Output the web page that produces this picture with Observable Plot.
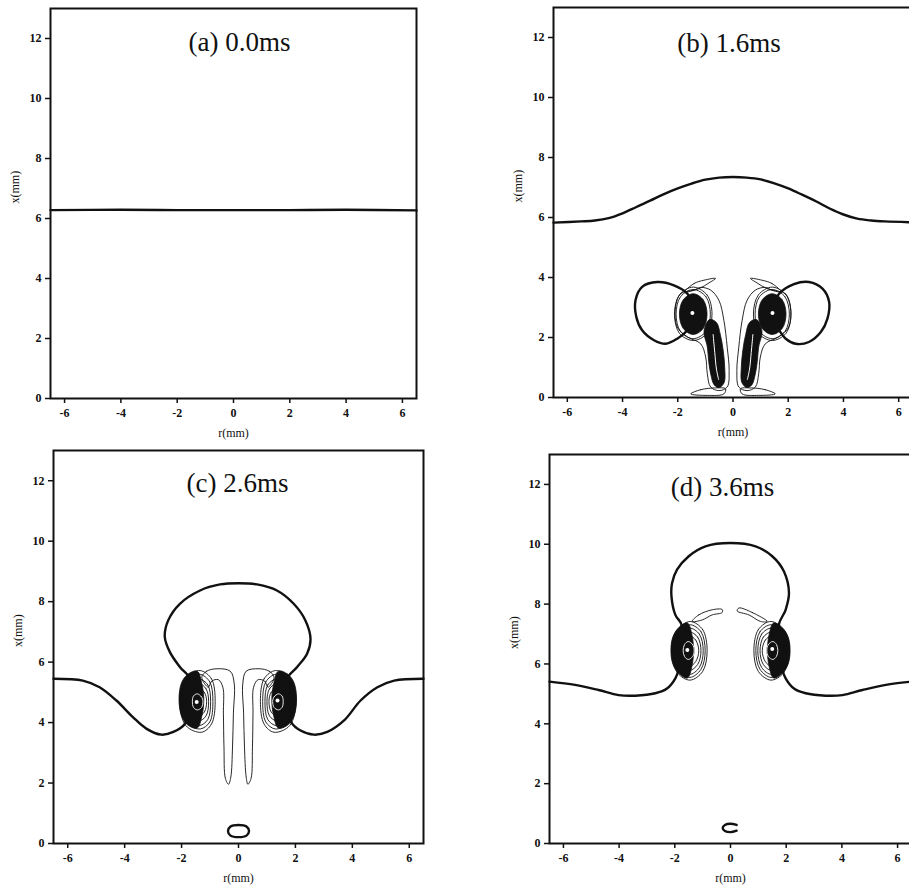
<!DOCTYPE html>
<html><head><meta charset="utf-8">
<script src="https://cdn.jsdelivr.net/npm/d3@7"></script>
<script src="https://cdn.jsdelivr.net/npm/@observablehq/plot@0.6"></script>
<style>
html,body{margin:0;padding:0;background:#fff;width:909px;height:889px;overflow:hidden;}
body{position:relative;}
.p{position:absolute;}
.p svg{max-width:none !important;}
</style></head><body>
<div id="pa" class="p" style="left:0px;top:0px;width:440px"></div>
<div id="pb" class="p" style="left:460px;top:0px;width:460px"></div>
<div id="pc" class="p" style="left:0px;top:440px;width:440px"></div>
<div id="pd" class="p" style="left:460px;top:440px;width:460px"></div>
<script>
// ---------- tick labels / titles ----------
const rTicks = [-6, -4, -2, 0, 2, 4, 6];
const xTicks = [0, 2, 4, 6, 8, 10, 12];
const titles = ["(a) 0.0ms", "(b) 1.6ms", "(c) 2.6ms", "(d) 3.6ms"];

// ---------- panel (a) : flat interface ----------
const aInterface = [[-6.5,6.28],[-4,6.29],[-2,6.28],[0,6.28],[2,6.28],[4,6.29],[6.5,6.27]];

// ---------- panel (b) : 1.6 ms ----------
const bInterface = [[-6.5,5.83],[-5.5,5.87],[-5,5.9],[-4.5,5.98],[-4,6.14],[-3.5,6.35],[-3,6.56],[-2.5,6.78],[-2,6.97],[-1.5,7.13],[-1,7.26],[-0.5,7.33],[0,7.35],[0.5,7.33],[1,7.27],[1.5,7.14],[2,6.97],[2.5,6.76],[3,6.54],[3.5,6.3],[4,6.1],[4.5,5.96],[5,5.9],[5.5,5.87],[6.5,5.84]];
const bLoopL = [[-1.65,3.46],[-2.14,3.74],[-2.74,3.85],[-3.29,3.69],[-3.53,3.24],[-3.50,2.68],[-3.29,2.24],[-2.86,1.91],[-2.44,1.79],[-2.02,1.96],[-1.65,2.24],[-1.35,2.8]];
const bLoopR = [[1.67,3.46],[2.21,3.78],[2.75,3.85],[3.24,3.63],[3.48,3.19],[3.42,2.63],[3.18,2.18],[2.75,1.85],[2.27,1.79],[1.91,1.96],[1.67,2.24],[1.35,2.8]];
const bEyeL = [[-1.44,3.46],[-1.08,3.26],[-0.94,2.78],[-1.08,2.3],[-1.44,2.1],[-1.8,2.3],[-1.94,2.78],[-1.8,3.26]];
const bEyeR = [[1.42,3.46],[1.78,3.26],[1.92,2.78],[1.78,2.3],[1.42,2.1],[1.06,2.3],[0.92,2.78],[1.06,3.26]];
const bRingL = [[-1.44,3.6],[-0.98,3.36],[-0.82,2.78],[-0.98,2.2],[-1.44,1.96],[-1.9,2.2],[-2.06,2.78],[-1.9,3.36]];
const bRingR = [[1.42,3.6],[1.88,3.36],[2.04,2.78],[1.88,2.2],[1.42,1.96],[0.96,2.2],[0.8,2.78],[0.96,3.36]];
const bRing2L = [[-1.44,3.68],[-0.94,3.42],[-0.76,2.78],[-0.94,2.14],[-1.44,1.9],[-1.94,2.14],[-2.12,2.78],[-1.94,3.42]];
const bRing2R = [[1.42,3.68],[1.92,3.42],[2.1,2.78],[1.92,2.14],[1.42,1.9],[0.92,2.14],[0.74,2.78],[0.92,3.42]];
const bTearL = [[-1.41,3.58],[-1.90,3.46],[-2.08,3.02],[-2.02,2.35],[-1.65,2.02],[-1.17,1.79],[-0.99,1.35],[-0.93,0.79],[-0.81,0.35],[-0.51,0.23],[-0.21,0.35],[-0.14,0.90],[-0.21,1.68],[-0.33,2.57],[-0.51,3.24],[-0.81,3.58],[-1.17,3.67]];
const bTearR = [[1.41,3.58],[1.90,3.46],[2.08,3.02],[2.02,2.35],[1.65,2.02],[1.17,1.79],[0.99,1.35],[0.93,0.79],[0.81,0.35],[0.51,0.23],[0.21,0.35],[0.14,0.90],[0.21,1.68],[0.33,2.57],[0.51,3.24],[0.81,3.58],[1.17,3.67]];
const bTailL = [[-1.05,2.2],[-0.93,1.7],[-0.88,1.2],[-0.8,0.75],[-0.68,0.42],[-0.5,0.33],[-0.32,0.5],[-0.3,1.0],[-0.36,1.6],[-0.46,2.1],[-0.6,2.5],[-0.85,2.6]];
const bTailR = [[1.05,2.2],[0.93,1.7],[0.88,1.2],[0.8,0.75],[0.68,0.42],[0.5,0.33],[0.32,0.5],[0.3,1.0],[0.36,1.6],[0.46,2.1],[0.6,2.5],[0.85,2.6]];
const bStreakL = [[-0.72,2.1],[-0.66,1.5],[-0.6,0.95],[-0.52,0.6]];
const bStreakR = [[0.72,2.1],[0.66,1.5],[0.6,0.95],[0.52,0.6]];
const bHookL = [[-1.75,3.52],[-1.41,3.80],[-1.05,3.91],[-0.63,3.97],[-0.87,3.82],[-1.23,3.63]];
const bHookR = [[1.75,3.52],[1.41,3.80],[1.05,3.91],[0.63,3.97],[0.87,3.82],[1.23,3.63]];
const bLensL = [[-1.53,0.12],[-1.17,0.26],[-0.63,0.32],[-0.27,0.29],[-0.33,0.12],[-0.93,0.07]];
const bLensR = [[1.53,0.12],[1.17,0.26],[0.63,0.32],[0.27,0.29],[0.33,0.12],[0.93,0.07]];
const bCentres = [[-1.47,2.82],[1.43,2.82]];

// ---------- panel (c) : 2.6 ms ----------
const cInterfaceL = [[-6.5,5.45],[-5.47,5.39],[-4.88,5.17],[-4.29,4.73],[-3.71,4.18],[-3.24,3.80],[-2.71,3.60],[-2.29,3.69],[-1.88,3.96],[-1.8,4.25]];
const cCap = [[-1.85,5.2],[-1.71,5.45],[-2.06,5.84],[-2.41,6.33],[-2.59,6.83],[-2.47,7.38],[-2.06,7.93],[-1.35,8.37],[-0.65,8.57],[0,8.61],[0.65,8.57],[1.35,8.37],[1.94,7.93],[2.35,7.38],[2.53,6.77],[2.41,6.28],[2.06,5.84],[1.71,5.45],[1.85,5.2]];
const cInterfaceR = [[1.8,4.25],[1.86,4.0],[2.18,3.74],[2.65,3.60],[3.12,3.69],[3.71,4.07],[4.29,4.73],[4.88,5.17],[5.47,5.39],[6.5,5.45]];
const cDarkL = [[-1.45,5.7],[-1.78,5.6],[-2.0,5.32],[-2.09,4.78],[-2.0,4.22],[-1.78,3.92],[-1.45,3.82],[-1.28,4.25],[-1.22,4.75],[-1.28,5.25]];
const cDarkR = [[1.4,5.7],[1.73,5.6],[1.95,5.32],[2.04,4.78],[1.95,4.22],[1.73,3.92],[1.4,3.82],[1.23,4.25],[1.17,4.75],[1.23,5.25]];
const cRing1L = [[-1.35,5.72],[-0.95,5.45],[-0.82,4.7],[-0.95,3.95],[-1.3,3.68],[-1.85,3.9],[-2.07,4.75],[-1.85,5.5]];
const cRing5L = [[-1.37,5.6],[-1.01,5.35],[-0.9,4.7],[-1.01,4.02],[-1.34,3.79],[-1.8,3.97],[-2.01,4.72],[-1.8,5.4]];
const cRing2L = [[-1.4,5.45],[-1.08,5.25],[-0.98,4.7],[-1.08,4.1],[-1.38,3.9],[-1.75,4.05],[-1.95,4.7],[-1.75,5.3]];
const cRing6L = [[-1.41,5.3],[-1.14,5.12],[-1.05,4.7],[-1.14,4.22],[-1.4,4.05],[-1.7,4.17],[-1.86,4.7],[-1.7,5.17]];
const cRing3L = [[-1.42,5.15],[-1.2,5.0],[-1.12,4.7],[-1.2,4.35],[-1.42,4.2],[-1.65,4.3],[-1.78,4.7],[-1.65,5.05]];
const cRing4L = [[-1.45,4.95],[-1.3,4.85],[-1.25,4.7],[-1.3,4.5],[-1.45,4.42],[-1.58,4.5],[-1.62,4.7],[-1.58,4.88]];
const cRing1R = [[1.3,5.72],[0.9,5.45],[0.77,4.7],[0.9,3.95],[1.25,3.68],[1.8,3.9],[2.02,4.75],[1.8,5.5]];
const cRing5R = [[1.32,5.6],[0.96,5.35],[0.85,4.7],[0.96,4.02],[1.29,3.79],[1.75,3.97],[1.96,4.72],[1.75,5.4]];
const cRing2R = [[1.35,5.45],[1.03,5.25],[0.93,4.7],[1.03,4.1],[1.33,3.9],[1.7,4.05],[1.9,4.7],[1.7,5.3]];
const cRing6R = [[1.36,5.3],[1.09,5.12],[1.0,4.7],[1.09,4.22],[1.35,4.05],[1.65,4.17],[1.81,4.7],[1.65,5.17]];
const cRing3R = [[1.37,5.15],[1.15,5.0],[1.07,4.7],[1.15,4.35],[1.37,4.2],[1.6,4.3],[1.73,4.7],[1.6,5.05]];
const cRing4R = [[1.4,4.95],[1.25,4.85],[1.2,4.7],[1.25,4.5],[1.4,4.42],[1.53,4.5],[1.57,4.7],[1.53,4.88]];
const cTailL = [[-1.29,5.50],[-1.12,5.70],[-0.76,5.78],[-0.29,5.70],[-0.15,5.28],[-0.18,4.29],[-0.21,3.19],[-0.27,2.20],[-0.35,1.96],[-0.46,2.15],[-0.51,3.19],[-0.53,4.29],[-0.55,5.17],[-0.71,5.42],[-0.94,5.37],[-1.06,5.17]];
const cTailR = [[1.25,5.50],[1.08,5.70],[0.72,5.78],[0.27,5.70],[0.15,5.28],[0.18,4.29],[0.21,3.19],[0.27,2.20],[0.33,1.96],[0.44,2.15],[0.49,3.19],[0.51,4.29],[0.53,5.17],[0.69,5.42],[0.92,5.37],[1.04,5.17]];
const cBottom = [[0,0.61],[0.28,0.56],[0.37,0.41],[0.28,0.26],[0,0.21],[-0.28,0.26],[-0.37,0.41],[-0.28,0.56]];
const cCentres = [[-1.47,4.68],[1.37,4.73]];

// ---------- panel (d) : 3.6 ms ----------
const dInterfaceL = [[-6.5,5.41],[-5.58,5.30],[-4.74,5.13],[-4.02,4.96],[-3.42,4.94],[-2.70,5.02],[-2.28,5.18],[-1.98,5.52],[-1.85,5.85]];
const dCap = [[-1.9,7.0],[-1.76,7.31],[-1.98,7.64],[-2.12,8.26],[-2.10,8.70],[-1.92,9.15],[-1.50,9.60],[-0.90,9.93],[0,10.04],[0.90,9.93],[1.50,9.60],[1.92,9.09],[2.10,8.37],[1.98,7.81],[1.74,7.31],[1.85,7.0]];
const dInterfaceR = [[1.85,5.85],[1.98,5.52],[2.28,5.18],[2.70,5.02],[3.42,4.94],[4.02,4.96],[4.74,5.13],[5.58,5.30],[6.5,5.41]];
const dDarkL = [[-1.55,7.37],[-1.87,7.2],[-2.07,6.9],[-2.14,6.45],[-2.07,6.0],[-1.87,5.7],[-1.55,5.53],[-1.38,5.95],[-1.33,6.45],[-1.38,6.95]];
const dDarkR = [[1.55,7.37],[1.87,7.2],[2.07,6.9],[2.14,6.45],[2.07,6.0],[1.87,5.7],[1.55,5.53],[1.38,5.95],[1.33,6.45],[1.38,6.95]];
const dRing1L = [[-1.45,7.42],[-1.0,7.15],[-0.84,6.44],[-1.0,5.75],[-1.45,5.46],[-1.9,5.7],[-2.12,6.44],[-1.95,7.1]];
const dRing5L = [[-1.46,7.31],[-1.06,7.08],[-0.91,6.44],[-1.06,5.82],[-1.46,5.55],[-1.85,5.78],[-2.05,6.44],[-1.88,7.05]];
const dRing2L = [[-1.47,7.2],[-1.12,7.0],[-0.98,6.44],[-1.12,5.88],[-1.47,5.65],[-1.8,5.85],[-1.98,6.44],[-1.82,7.0]];
const dRing6L = [[-1.48,7.07],[-1.18,6.9],[-1.06,6.44],[-1.18,5.98],[-1.48,5.78],[-1.76,5.95],[-1.91,6.44],[-1.77,6.91]];
const dRing3L = [[-1.5,6.95],[-1.25,6.8],[-1.14,6.44],[-1.25,6.08],[-1.5,5.9],[-1.72,6.05],[-1.85,6.44],[-1.72,6.82]];
const dRing4L = [[-1.52,6.75],[-1.36,6.65],[-1.3,6.45],[-1.36,6.25],[-1.52,6.15],[-1.65,6.25],[-1.7,6.45],[-1.65,6.65]];
const dRing1R = [[1.45,7.42],[1.0,7.15],[0.84,6.44],[1.0,5.75],[1.45,5.46],[1.9,5.7],[2.12,6.44],[1.95,7.1]];
const dRing5R = [[1.46,7.31],[1.06,7.08],[0.91,6.44],[1.06,5.82],[1.46,5.55],[1.85,5.78],[2.05,6.44],[1.88,7.05]];
const dRing2R = [[1.47,7.2],[1.12,7.0],[0.98,6.44],[1.12,5.88],[1.47,5.65],[1.8,5.85],[1.98,6.44],[1.82,7.0]];
const dRing6R = [[1.48,7.07],[1.18,6.9],[1.06,6.44],[1.18,5.98],[1.48,5.78],[1.76,5.95],[1.91,6.44],[1.77,6.91]];
const dRing3R = [[1.5,6.95],[1.25,6.8],[1.14,6.44],[1.25,6.08],[1.5,5.9],[1.72,6.05],[1.85,6.44],[1.72,6.82]];
const dRing4R = [[1.52,6.75],[1.36,6.65],[1.3,6.45],[1.36,6.25],[1.52,6.15],[1.65,6.25],[1.7,6.45],[1.65,6.65]];
const dHookL = [[-1.38,7.42],[-1.14,7.64],[-0.66,7.81],[-0.30,7.82],[-0.30,7.72],[-0.66,7.64],[-1.02,7.47]];
const dHookR = [[1.32,7.42],[0.78,7.72],[0.30,7.87],[0.24,7.77],[0.66,7.64],[1.08,7.42]];
const dBottom = [[0.22,0.62],[0,0.66],[-0.2,0.62],[-0.28,0.52],[-0.2,0.42],[0,0.38],[0.22,0.43]];
const dCentres = [[-1.55,6.47],[1.5,6.5]];

// ---------- helpers ----------
const L = (data, o) => Plot.line(data, {x: d => d[0], y: d => d[1], ...o});
const thick = {stroke: "#111", strokeWidth: 2.4, curve: "catmull-rom"};
const thickC = {stroke: "#111", strokeWidth: 2.4, curve: "catmull-rom-closed"};
const thin = {stroke: "#111", strokeWidth: 0.9, curve: "catmull-rom-closed"};
const dark = {fill: "#111", stroke: "#111", strokeWidth: 0.8, curve: "catmull-rom-closed"};
const whiteLine = {stroke: "white", strokeWidth: 0.9, curve: "catmull-rom-closed"};
const centres = data => Plot.dot(data, {x: d => d[0], y: d => d[1], r: 2, fill: "white", stroke: null});

function panel(id, cfg, marks) {
  const chart = Plot.plot({
    width: cfg.w, height: cfg.h,
    marginTop: cfg.mt, marginRight: cfg.mr, marginBottom: cfg.mb, marginLeft: cfg.ml,
    x: {domain: [-6.5, 6.5]},
    y: {domain: [0, 13]},
    style: {fontFamily: "'Liberation Serif', 'Times New Roman', serif", fontSize: "12px", color: "#111", background: "white", overflow: "visible"},
    marks: [
      ...marks,
      Plot.frame({stroke: "#111", strokeWidth: 2}),
      Plot.axisX({ticks: rTicks, tickSize: 5, tickPadding: 5, tickFormat: d => String(d), label: null, strokeWidth: 1.5, fontWeight: "bold", fontSize: 12}),
      Plot.axisY({ticks: xTicks, tickSize: 5, tickPadding: 4, tickFormat: d => String(d), label: null, strokeWidth: 1.5, fontWeight: "bold", fontSize: 12}),
      Plot.text([cfg.title], {frameAnchor: "top", dx: cfg.tdx, dy: cfg.tdy, fontSize: 27, lineAnchor: "middle"}),
      Plot.text(["r(mm)"], {frameAnchor: "bottom", dy: 35, lineAnchor: "middle", fontSize: 12}),
      Plot.text(["x(mm)"], {frameAnchor: "left", dx: -35, rotate: -90, fontSize: 12, lineAnchor: "middle"})
    ]
  });
  document.getElementById(id).appendChild(chart);
}

panel("pa", {w: 440, h: 445, mt: 8, mr: 24, mb: 47, ml: 50, title: titles[0], tdx: 6, tdy: 34}, [
  L(aInterface, thick)
]);

panel("pb", {w: 460, h: 445, mt: 7, mr: 8, mb: 48, ml: 93, title: titles[1], tdx: -4, tdy: 36}, [
  L(bInterface, thick),
  L(bLoopL, thickC), L(bLoopR, thickC),
  L(bTearL, thin), L(bTearR, thin),
  L(bRingL, thin), L(bRingR, thin),
  L(bRing2L, thin), L(bRing2R, thin),
  L(bHookL, thin), L(bHookR, thin),
  L(bLensL, thin), L(bLensR, thin),
  L(bTailL, dark), L(bTailR, dark),
  L(bEyeL, dark), L(bEyeR, dark),
  L(bStreakL, {stroke: "white", strokeWidth: 1, curve: "catmull-rom"}),
  L(bStreakR, {stroke: "white", strokeWidth: 1, curve: "catmull-rom"}),
  centres(bCentres)
]);

panel("pc", {w: 440, h: 449, mt: 10, mr: 17, mb: 46, ml: 53, title: titles[2], tdx: -1, tdy: 33}, [
  L(cInterfaceL, thick), L(cCap, thick), L(cInterfaceR, thick),
  L(cTailL, thin), L(cTailR, thin),
  L(cDarkL, dark), L(cDarkR, dark),
  L(cRing1L, thin), L(cRing5L, thin), L(cRing2L, thin), L(cRing6L, thin), L(cRing3L, thin), L(cRing4L, thin),
  L(cRing1R, thin), L(cRing5R, thin), L(cRing2R, thin), L(cRing6R, thin), L(cRing3R, thin), L(cRing4R, thin),
  L(cRing4L, whiteLine), L(cRing4R, whiteLine),
  L(cBottom, thickC),
  centres(cCentres)
]);

panel("pd", {w: 460, h: 449, mt: 14, mr: 9, mb: 46, ml: 89, title: titles[3], tdx: -8, tdy: 33}, [
  L(dInterfaceL, thick), L(dCap, thick), L(dInterfaceR, thick),
  L(dHookL, thin), L(dHookR, thin),
  L(dDarkL, dark), L(dDarkR, dark),
  L(dRing1L, thin), L(dRing5L, thin), L(dRing2L, thin), L(dRing6L, thin), L(dRing3L, thin), L(dRing4L, thin),
  L(dRing1R, thin), L(dRing5R, thin), L(dRing2R, thin), L(dRing6R, thin), L(dRing3R, thin), L(dRing4R, thin),
  L(dRing4L, whiteLine), L(dRing4R, whiteLine),
  L(dBottom, thick),
  centres(dCentres)
]);
</script>
</body></html>
